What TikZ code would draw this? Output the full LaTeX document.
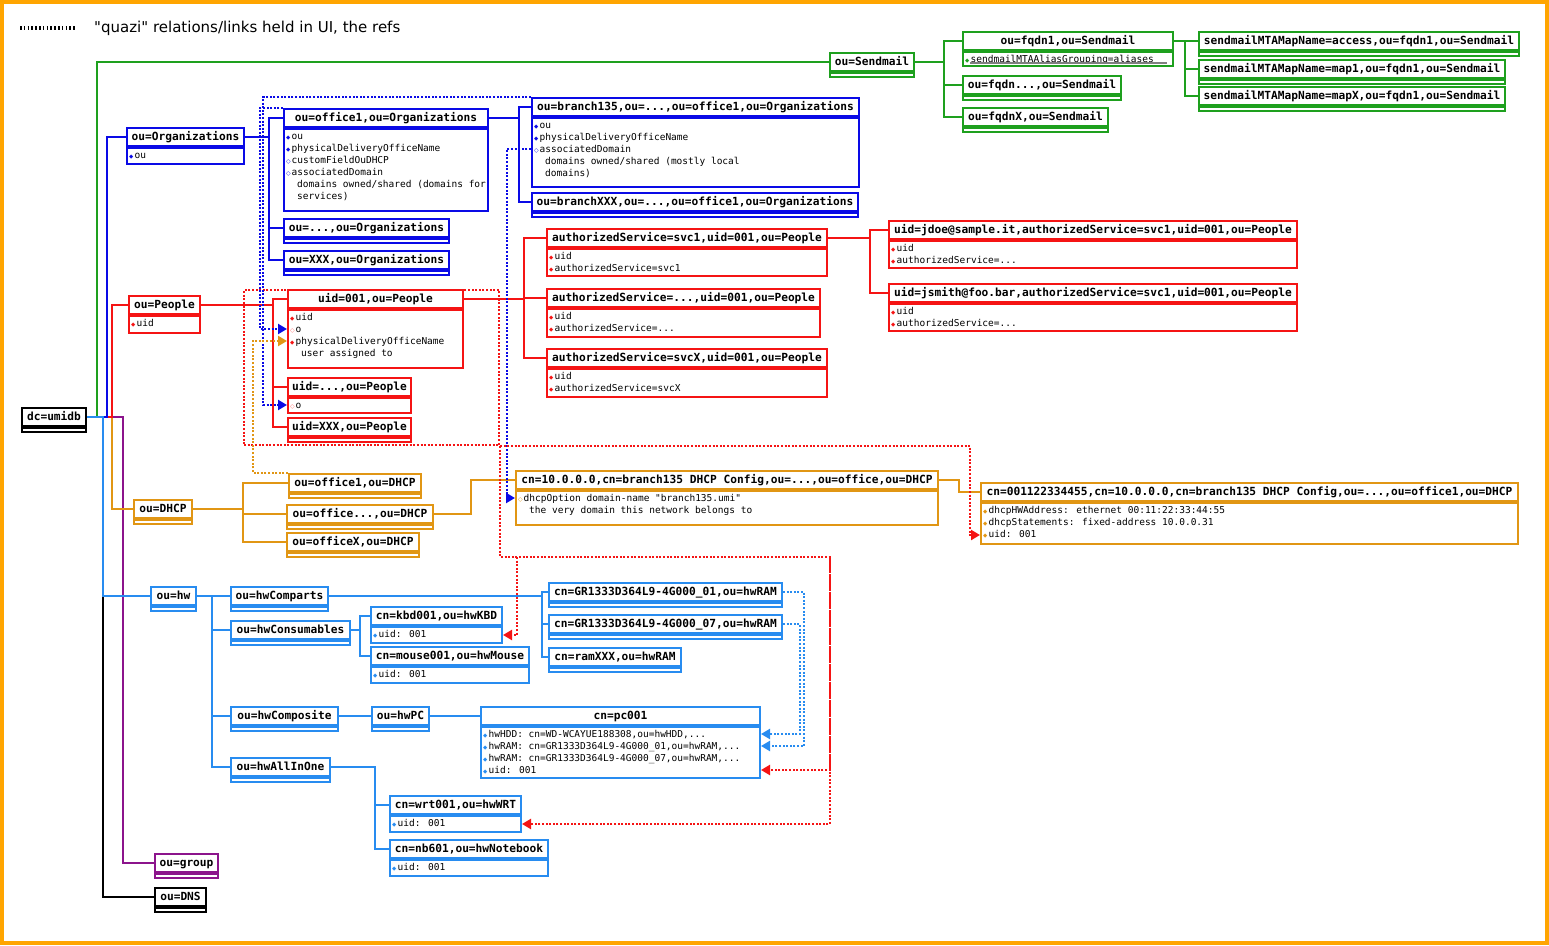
\documentclass[tikz,border=0pt]{standalone}
\usepackage{fontspec}
\usetikzlibrary{arrows.meta,calc}
\newfontfamily\monof{DejaVu Sans Mono}[Ligatures=TeXOff]
\newfontfamily\symf{DejaVu Sans}
\newfontfamily\legf{DejaVu Sans}[Ligatures=TeXOff]
\definecolor{cgreen}{RGB}{30,160,30}
\definecolor{cblue}{RGB}{10,10,230}
\definecolor{cred}{RGB}{245,20,20}
\definecolor{cpink}{RGB}{255,110,110}
\definecolor{corange}{RGB}{225,150,20}
\definecolor{clb}{RGB}{40,140,240}
\definecolor{cpurple}{RGB}{140,20,140}
\definecolor{cframe}{RGB}{255,165,0}
\pgfdeclarelayer{bg}
\pgfsetlayers{bg,main}
\tikzset{
  ttl/.style={rectangle, line width=2pt, fill=white, inner sep=0pt, minimum height=18pt,
    text height=8.5pt, text depth=2.5pt, font=\monof\bfseries\fontsize{11.2}{13}\selectfont},
  att/.style={rectangle, line width=2pt, fill=white, inner sep=0pt},
  atx/.style={inner sep=0pt, align=left, font=\monof\fontsize{9.5}{12}\selectfont},
  tree/.style={line width=2pt},
  qlink/.style={line width=2.2pt, dash pattern=on 2pt off 1.6pt, -{Triangle[length=9pt,width=10pt]}},
  qplain/.style={line width=2.2pt, dash pattern=on 2pt off 1.6pt},
}
\newcommand\fb[1]{\makebox[5.5pt][l]{\textcolor{#1}{\symf\fontsize{5.5}{6}\selectfont ◆}}}
\newcommand\hb[1]{\makebox[5.5pt][l]{\textcolor{#1}{\symf\fontsize{6}{6}\selectfont ◇}}}
% name, colour, x, y, width, attr height, title, attributes
\newcommand\mkent[8]{%
  \node[ttl,draw=#2,minimum width=#5pt,anchor=north west] (#1) at (#3,#4) {#7};
  \node[att,draw=#2,minimum width=#5pt,minimum height=#6pt,anchor=north west] (#1-a) at (#1.south west) {};
  \node[atx,anchor=north west] (#1-t) at ($(#1-a.north west)+(3,2)$) {\rule{0pt}{9pt}#8};
}
\begin{document}
\begin{tikzpicture}[x=1pt,y=-1pt]
\useasboundingbox (0,0) rectangle (1549,945);
\begin{pgfonlayer}{bg}
\fill[cframe] (0,0) rectangle (1549,945);
\fill[white] (4,4) rectangle (1545,941);
\end{pgfonlayer}

% legend
\coordinate (lg1) at (20,28);
\coordinate (lg2) at (75,28);
\draw[line width=4pt, dash pattern=on 1.6pt off 2.2pt] (lg1) -- (lg2);
\node[anchor=west, inner sep=0pt, font=\legf\fontsize{15}{18}\selectfont] (legtxt) at (94,28) {"quazi" relations/links held in UI, the refs};

% root
\mkent{dc}{black}{21}{407}{64}{4}{dc=umidb}{}

% Sendmail
\mkent{send}{cgreen}{829}{52}{84}{4}{ou=Sendmail}{}
\mkent{fqdn1}{cgreen}{962}{31}{210}{14}{ou=fqdn1,ou=Sendmail}{\fb{cgreen}sendmailMTAAliasGrouping=aliases}
\mkent{fqdnd}{cgreen}{962}{75}{158}{4}{ou=fqdn...,ou=Sendmail}{}
\mkent{fqdnx}{cgreen}{962}{107}{145}{4}{ou=fqdnX,ou=Sendmail}{}
\mkent{mapa}{cgreen}{1198}{31}{320}{4}{sendmailMTAMapName=access,ou=fqdn1,ou=Sendmail}{}
\mkent{map1}{cgreen}{1198}{59}{306}{4}{sendmailMTAMapName=map1,ou=fqdn1,ou=Sendmail}{}
\mkent{mapx}{cgreen}{1198}{86}{306}{4}{sendmailMTAMapName=mapX,ou=fqdn1,ou=Sendmail}{}
\draw[gray, line width=1.5pt] ($(fqdn1-a.north west)+(8,12)$) -- ($(fqdn1-a.north east)+(-7,12)$);

% Organizations
\mkent{org}{cblue}{126}{127}{117}{16}{ou=Organizations}{\fb{cblue}ou}
\mkent{off1}{cblue}{283}{108}{204}{82}{ou=office1,ou=Organizations}{\fb{cblue}ou\\\fb{cblue}physicalDeliveryOfficeName\\\hb{cblue}customFieldOuDHCP\\\hb{cblue}associatedDomain\\\hspace*{11pt}domains owned/shared (domains for\\\hspace*{11pt}services)}
\mkent{orgd}{cblue}{283}{218}{165}{4}{ou=...,ou=Organizations}{}
\mkent{orgx}{cblue}{283}{250}{165}{4}{ou=XXX,ou=Organizations}{}
\mkent{br135}{cblue}{531}{97}{327}{69}{ou=branch135,ou=...,ou=office1,ou=Organizations}{\fb{cblue}ou\\\fb{cblue}physicalDeliveryOfficeName\\\hb{cblue}associatedDomain\\\hspace*{11pt}domains owned/shared (mostly local\\\hspace*{11pt}domains)}
\mkent{brx}{cblue}{531}{192}{326}{4}{ou=branchXXX,ou=...,ou=office1,ou=Organizations}{}

% People
\mkent{ppl}{cred}{128}{295}{71}{17}{ou=People}{\fb{cred}uid}
\mkent{u001}{cred}{287}{289}{175}{58}{uid=001,ou=People}{\fb{cred}uid\\\hb{cpink}o\\\fb{cred}physicalDeliveryOfficeName\\\hspace*{11pt}user assigned to}
\mkent{udots}{cred}{287}{377}{123}{15}{uid=...,ou=People}{\hb{cpink}o}
\mkent{uxxx}{cred}{287}{417}{123}{4}{uid=XXX,ou=People}{}
\mkent{svc1}{cred}{546}{228}{280}{27}{authorizedService=svc1,uid=001,ou=People}{\fb{cred}uid\\\fb{cred}authorizedService=svc1}
\mkent{svcd}{cred}{546}{288}{273}{28}{authorizedService=...,uid=001,ou=People}{\fb{cred}uid\\\fb{cred}authorizedService=...}
\mkent{svcx}{cred}{546}{348}{280}{28}{authorizedService=svcX,uid=001,ou=People}{\fb{cred}uid\\\fb{cred}authorizedService=svcX}
\mkent{jdoe}{cred}{888}{220}{408}{27}{uid=jdoe@sample.it,authorizedService=svc1,uid=001,ou=People}{\fb{cred}uid\\\fb{cred}authorizedService=...}
\mkent{jsmith}{cred}{888}{283}{408}{27}{uid=jsmith@foo.bar,authorizedService=svc1,uid=001,ou=People}{\fb{cred}uid\\\fb{cred}authorizedService=...}

% DHCP
\mkent{dhcp}{corange}{133}{499}{58}{4}{ou=DHCP}{}
\mkent{doff1}{corange}{288}{473}{132}{4}{ou=office1,ou=DHCP}{}
\mkent{doffd}{corange}{286}{504}{146}{4}{ou=office...,ou=DHCP}{}
\mkent{doffx}{corange}{286}{532}{132}{4}{ou=officeX,ou=DHCP}{}
\mkent{cn10}{corange}{515}{470}{422}{34}{cn=10.0.0.0,cn=branch135 DHCP Config,ou=...,ou=office,ou=DHCP}{\hb{corange}dhcpOption domain-name "branch135.umi"\\\hspace*{11pt}the very domain this network belongs to}
\mkent{cnmac}{corange}{980}{482}{537}{41}{cn=001122334455,cn=10.0.0.0,cn=branch135 DHCP Config,ou=...,ou=office1,ou=DHCP}{\fb{corange}dhcpHWAddress: ethernet 00:11:22:33:44:55\\\fb{corange}dhcpStatements: fixed-address 10.0.0.31\\\fb{corange}uid: 001}

% hw
\mkent{hw}{clb}{150}{586}{45}{4}{ou=hw}{}
\mkent{hwcp}{clb}{230}{586}{97}{4}{ou=hwComparts}{}
\mkent{hwcs}{clb}{230}{620}{119}{4}{ou=hwConsumables}{}
\mkent{hwco}{clb}{230}{706}{107}{4}{ou=hwComposite}{}
\mkent{hwai}{clb}{230}{757}{99}{4}{ou=hwAllInOne}{}
\mkent{ram1}{clb}{548}{582}{233}{4}{cn=GR1333D364L9-4G000\_01,ou=hwRAM}{}
\mkent{ram7}{clb}{548}{614}{233}{4}{cn=GR1333D364L9-4G000\_07,ou=hwRAM}{}
\mkent{ramx}{clb}{548}{647}{132}{4}{cn=ramXXX,ou=hwRAM}{}
\mkent{kbd}{clb}{370}{606}{131}{16}{cn=kbd001,ou=hwKBD}{\fb{clb}uid: 001}
\mkent{mouse}{clb}{370}{646}{158}{16}{cn=mouse001,ou=hwMouse}{\fb{clb}uid: 001}
\mkent{hwpc}{clb}{371}{706}{57}{4}{ou=hwPC}{}
\mkent{pc}{clb}{480}{706}{279}{51}{cn=pc001}{\fb{clb}hwHDD: cn=WD-WCAYUE188308,ou=hwHDD,...\\\fb{clb}hwRAM: cn=GR1333D364L9-4G000\_01,ou=hwRAM,...\\\fb{clb}hwRAM: cn=GR1333D364L9-4G000\_07,ou=hwRAM,...\\\fb{clb}uid: 001}
\mkent{wrt}{clb}{389}{795}{131}{16}{cn=wrt001,ou=hwWRT}{\fb{clb}uid: 001}
\mkent{nb}{clb}{389}{839}{158}{16}{cn=nb601,ou=hwNotebook}{\fb{clb}uid: 001}

% group, DNS
\mkent{grp}{cpurple}{154}{853}{63}{4}{ou=group}{}
\mkent{dns}{black}{154}{887}{51}{4}{ou=DNS}{}

% tree connectors (behind boxes)
\begin{pgfonlayer}{bg}
\draw[tree,black] (dc.east) -- ++(16,0) |- (dns.west);
\draw[tree,cpurple] (dc.east) -- ++(36,0) |- (grp.west);
\draw[tree,corange] (dc.east) -- ++(25,0) |- (dhcp.west);
\draw[tree,cred] (dc.east) -- ++(25,0) |- (ppl.west);
\draw[tree,cblue] (dc.east) -- ++(20,0) |- (org.west);
\draw[tree,cgreen] (dc.east) -- ++(10,0) |- (send.west);
\draw[tree,clb] (dc.east) -- ++(16,0) |- (hw.west);

\draw[tree,cgreen] (send.east) -- ++(29,0) |- (fqdn1.west);
\draw[tree,cgreen] (send.east) -- ++(29,0) |- (fqdnd.west);
\draw[tree,cgreen] (send.east) -- ++(29,0) |- (fqdnx.west);
\draw[tree,cgreen] (fqdn1.east) -- ++(11,0) |- (mapa.west);
\draw[tree,cgreen] (fqdn1.east) -- ++(11,0) |- (map1.west);
\draw[tree,cgreen] (fqdn1.east) -- ++(11,0) |- (mapx.west);

\draw[tree,cblue] (org.east) -- ++(24,0) |- (off1.west);
\draw[tree,cblue] (org.east) -- ++(24,0) |- (orgd.west);
\draw[tree,cblue] (org.east) -- ++(24,0) |- (orgx.west);
\draw[tree,cblue] (off1.east) -- ++(30,0) |- (br135.west);
\draw[tree,cblue] (off1.east) -- ++(30,0) |- (brx.west);

\draw[tree,cred] (ppl.east) -- ++(72,0) |- (u001.west);
\draw[tree,cred] (ppl.east) -- ++(72,0) |- (udots.west);
\draw[tree,cred] (ppl.east) -- ++(72,0) |- (uxxx.west);
\draw[tree,cred] (u001.east) -- ++(60,0) |- (svc1.west);
\draw[tree,cred] (u001.east) -- ++(60,0) |- (svcd.west);
\draw[tree,cred] (u001.east) -- ++(60,0) |- (svcx.west);
\draw[tree,cred] (svc1.east) -- ++(42,0) |- (jdoe.west);
\draw[tree,cred] (svc1.east) -- ++(42,0) |- (jsmith.west);

\draw[tree,corange] (dhcp.east) -- ++(50,0) |- (doff1.west);
\draw[tree,corange] (dhcp.east) -- ++(50,0) |- (doffd.west);
\draw[tree,corange] (dhcp.east) -- ++(50,0) |- (doffx.west);
\draw[tree,corange] (doffd.east) -- ++(37,0) |- (cn10.west);
\draw[tree,corange] (cn10.east) -- ++(20,0) |- (cnmac.west);

\draw[tree,clb] (hw.east) -- ++(15,0) |- (hwcp.west);
\draw[tree,clb] (hw.east) -- ++(15,0) |- (hwcs.west);
\draw[tree,clb] (hw.east) -- ++(15,0) |- (hwco.west);
\draw[tree,clb] (hw.east) -- ++(15,0) |- (hwai.west);
\draw[tree,clb] (hwcp.east) -- ++(213,0) |- (ram1.west);
\draw[tree,clb] (hwcp.east) -- ++(213,0) |- (ram7.west);
\draw[tree,clb] (hwcp.east) -- ++(213,0) |- (ramx.west);
\draw[tree,clb] (hwcs.east) -- ++(9,0) |- (kbd.west);
\draw[tree,clb] (hwcs.east) -- ++(9,0) |- (mouse.west);
\draw[tree,clb] (hwco.east) -- (hwpc.west);
\draw[tree,clb] (hwpc.east) -- (pc.west);
\draw[tree,clb] (hwai.east) -- ++(44,0) |- (wrt.west);
\draw[tree,clb] (hwai.east) -- ++(44,0) |- (nb.west);
\end{pgfonlayer}

% attribute anchor points for the quazi links
\coordinate (u001-o) at ($(u001-a.north west)+(0,20)$);
\coordinate (u001-pd) at ($(u001-a.north west)+(0,32)$);
\coordinate (udots-o) at ($(udots-a.north west)+(0,8)$);
\coordinate (br135-ad) at ($(br135-a.north west)+(0,32)$);
\coordinate (cn10-do) at ($(cn10-a.north west)+(0,8)$);
\coordinate (cnmac-uid) at ($(cnmac-a.north west)+(0,33)$);
\coordinate (pc-hdd) at ($(pc-a.north east)+(0,8)$);
\coordinate (pc-r1) at ($(pc-a.north east)+(0,20)$);
\coordinate (pc-uid) at ($(pc-a.north east)+(0,44)$);
\coordinate (rk) at (517,557);
\coordinate (rj) at (830,557);

% quazi links
\node[draw=cred, qplain, minimum width=255pt, minimum height=155pt, inner sep=0pt, anchor=north west] (pgrp) at (243,289) {};
\draw[qlink,cblue] (off1.north west) -- ++(-23,0) |- (u001-o);
\draw[qlink,cblue] (br135.north west) -- ++(-268,0) |- (udots-o);
\draw[qlink,cblue] (br135-ad) -- ++(-24,0) |- (cn10-do);
\draw[qlink,corange] (doff1.north west) -- ++(-35,0) |- (u001-pd);
\draw[qlink,cred] (pgrp.south east) -- ++(470,0) |- (cnmac-uid);
\draw[qlink,cred] (pgrp.south east) |- (rj) |- (wrt-a.east);
\draw[qlink,cred] (rk) |- (kbd-a.east);
\draw[qlink,cred] (rj) |- (pc-uid);
\draw[qlink,clb] (ram1.east) -- ++(21,0) |- (pc-r1);
\draw[qlink,clb] (ram7.east) -- ++(17,0) |- (pc-hdd);
\end{tikzpicture}
\end{document}
